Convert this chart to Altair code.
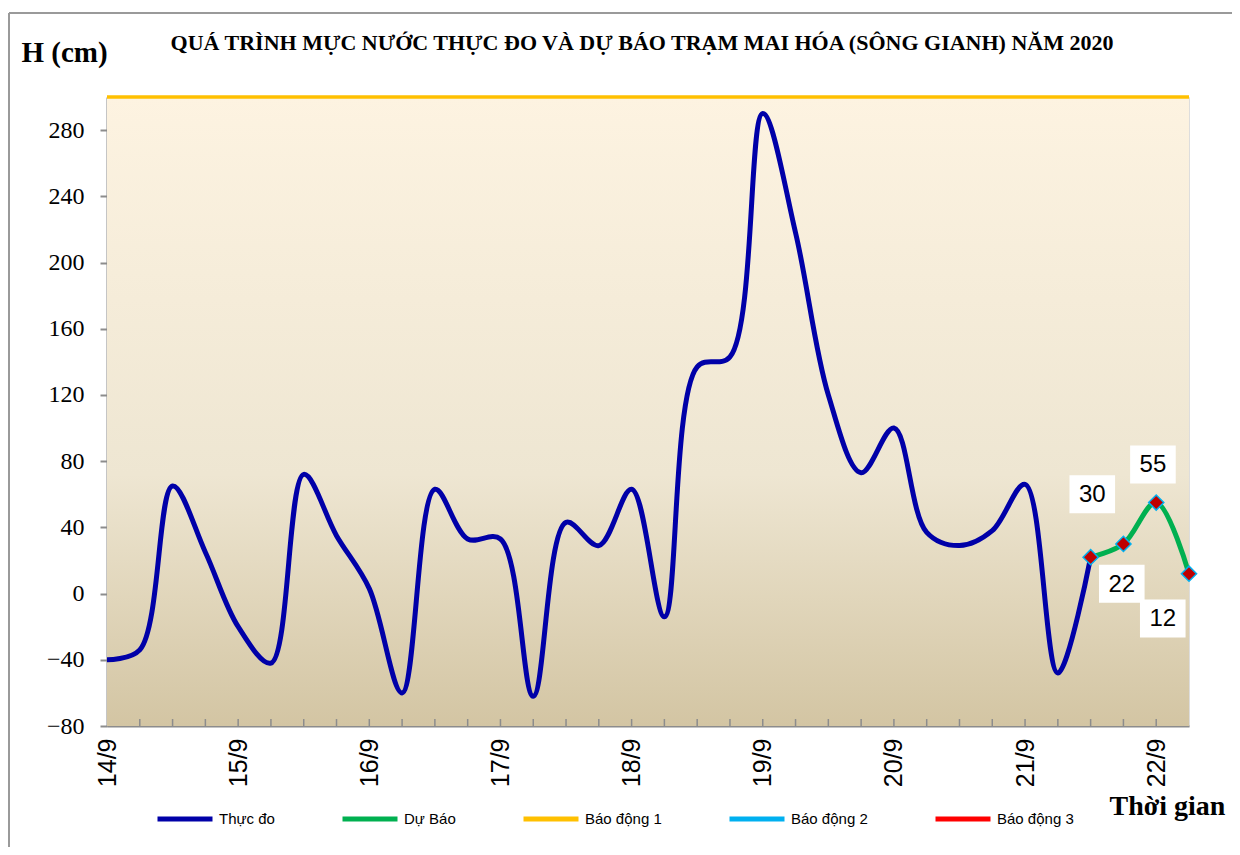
import json
import altair as alt
import pandas as pd

# ---------------- data ----------------
days = ["14/9", "15/9", "16/9", "17/9", "18/9", "19/9", "20/9", "21/9", "22/9"]
steps_per_day = 4  # one value every 6 hours

thuc_do = [-40, -34, 65, 25, -20, -42, 72, 35, 3, -60, 63, 33, 33, -62, 43, 29,
           63, -14, 137, 143, 290, 218, 120, 73, 100, 37, 29, 38, 66, -48, 22]
du_bao_idx = [30, 31, 32, 33]
du_bao = [22, 30, 55, 12]

alarm_names = ["Báo động 1", "Báo động 2", "Báo động 3"]
alarm_levels = [300, 450, 600]

series_names = ["Thực đo", "Dự Báo", "Báo động 1", "Báo động 2", "Báo động 3"]
series_colors = ["#0000A8", "#00B050", "#FFC000", "#00B0F0", "#FF0000"]

# data labels as they were placed on the original chart
label_text = ["30", "22", "55", "12"]
label_idx = [30.05, 30.95, 31.9, 32.2]
label_val = [60, 6, 78, -15]

y_ticks = [-80, -40, 0, 40, 80, 120, 160, 200, 240, 280]

W, H = 1082, 629
n_steps = 33

df_obs = pd.DataFrame({"idx": list(range(len(thuc_do))), "h": thuc_do, "series": "Thực đo"})
df_fc = pd.DataFrame({"idx": du_bao_idx, "h": du_bao, "series": "Dự Báo"})
df_alarm = pd.DataFrame({"series": alarm_names, "h": alarm_levels, "idx0": 0, "idx1": n_steps})
df_lab = pd.DataFrame({"idx": label_idx, "h": label_val, "t": label_text})
df_ticks = pd.DataFrame({"idx": list(range(1, n_steps)), "h": -80, "hi": -75.8})

xscale = alt.Scale(domain=[0, n_steps], nice=False, zero=False)
yscale = alt.Scale(domain=[-80, 300], nice=False, zero=False)
color = alt.Color(
    "series:N",
    scale=alt.Scale(domain=series_names, range=series_colors),
    legend=alt.Legend(
        title=None, orient="none", direction="horizontal",
        legendX=48, legendY=692,
        symbolType="stroke", symbolSize=3025, symbolStrokeWidth=5,
        labelFont="Liberation Sans", labelFontSize=15, labelColor="#000",
        labelOffset=4, columnPadding=57, columns=5,
    ),
)

label_expr = (
    f"datum.value % {steps_per_day} == 0 ? "
    f"{json.dumps(days)}[floor(datum.value / {steps_per_day})] : ''"
)

x_axis = alt.Axis(
    values=[i * steps_per_day for i in range(len(days))],
    labelExpr=label_expr, ticks=False, grid=False,
    labelAngle=270, labelAlign="right", labelBaseline="middle",
    labelFont="Liberation Sans", labelFontSize=25, labelColor="#000", labelPadding=12,
    domainColor="#8c8c8c", domainWidth=2,
    title="Thời gian", titleFont="Liberation Serif", titleFontSize=28, titleFontWeight="bold",
    titleColor="#000", titleAngle=0, titleAlign="left", titleBaseline="middle",
    titleX=1002, titleY=80, labelFlush=False, labelOverlap=False,
)
y_axis = alt.Axis(
    values=y_ticks, grid=False, tickSize=7, tickColor="#8c8c8c", tickWidth=2,
    labelFont="Liberation Serif", labelFontSize=24, labelColor="#000", labelPadding=16,
    domainColor="#8c8c8c", domainWidth=2,
    title="H (cm)", titleFont="Liberation Serif", titleFontSize=29, titleFontWeight="bold",
    titleColor="#000", titleAngle=0, titleAlign="left", titleBaseline="middle",
    titleX=-86, titleY=-45, labelFlush=False,
)


def X(field="idx"):
    return alt.X(f"{field}:Q", scale=xscale, axis=x_axis)


def Y(field="h"):
    return alt.Y(f"{field}:Q", scale=yscale, axis=y_axis)


bg = alt.Chart(pd.DataFrame({"a": [0]})).mark_rect(
    color=alt.LinearGradient(
        gradient="linear", x1=0, x2=0, y1=0, y2=1,
        stops=[alt.GradientStop(color="#FDF3E1", offset=0),
               alt.GradientStop(color="#EEE6D2", offset=0.6),
               alt.GradientStop(color="#D3C5A3", offset=1)],
    )
).encode(x=alt.value(0), x2=alt.value(W), y=alt.value(0), y2=alt.value(H))

ticks = alt.Chart(df_ticks).mark_rule(color="#8c8c8c", strokeWidth=1.5).encode(
    x=X(), y=Y(), y2="hi:Q",
)

obs = alt.Chart(df_obs).mark_line(strokeWidth=5, interpolate="catmull-rom").encode(
    x=X(), y=Y(), color=color,
)

fc = alt.Chart(df_fc).mark_line(strokeWidth=5, interpolate="catmull-rom").encode(
    x=X(), y=Y(), color=color,
)

pts = alt.Chart(df_fc).mark_point(
    shape="diamond", filled=True, fill="#C00000", stroke="#00B0F0",
    strokeWidth=1.5, size=230, opacity=1,
).encode(x=X(), y=Y())

alarm = alt.Chart(df_alarm).transform_filter("datum.h <= 300").mark_rule(
    strokeWidth=3.5, clip=False
).encode(x=X("idx0"), x2="idx1:Q", y=Y(), color=color)

boxes = alt.Chart(df_lab).mark_point(
    shape="M-1.2,-1L1.2,-1L1.2,1L-1.2,1Z", filled=True, fill="white",
    size=1444, opacity=1,
).encode(x=X(), y=Y())

texts = alt.Chart(df_lab).mark_text(
    font="Liberation Sans", fontSize=24, color="#000", baseline="middle", align="center", dy=1
).encode(x=X(), y=Y(), text="t:N")

frame = alt.Chart(pd.DataFrame({"a": [0]})).mark_rule(color="#9a9a9a", strokeWidth=2, clip=False)
frame_top = frame.encode(x=alt.value(-98), x2=alt.value(1125), y=alt.value(-84))
frame_left = frame.encode(x=alt.value(-98), y=alt.value(-84), y2=alt.value(750))

chart = alt.layer(
    bg, ticks, obs, fc, pts, alarm, boxes, texts, frame_top, frame_left
).properties(
    width=W, height=H,
    title=alt.TitleParams(
        "QUÁ TRÌNH MỰC NƯỚC THỰC ĐO VÀ DỰ BÁO TRẠM MAI HÓA (SÔNG GIANH) NĂM  2020",
        font="Liberation Serif", fontSize=22, fontWeight="bold", color="#000",
        anchor="middle", frame="group", offset=0, dx=-6, dy=60, baseline="alphabetic",
    ),
    autosize=alt.AutoSizeParams(type="none"),
    padding={"left": 99, "top": 89, "right": 43, "bottom": 121},
).configure_view(
    stroke="#333333", strokeWidth=1.5
).configure(background="white")

chart.save("out.html", embed_options={"renderer": "svg", "actions": False})
